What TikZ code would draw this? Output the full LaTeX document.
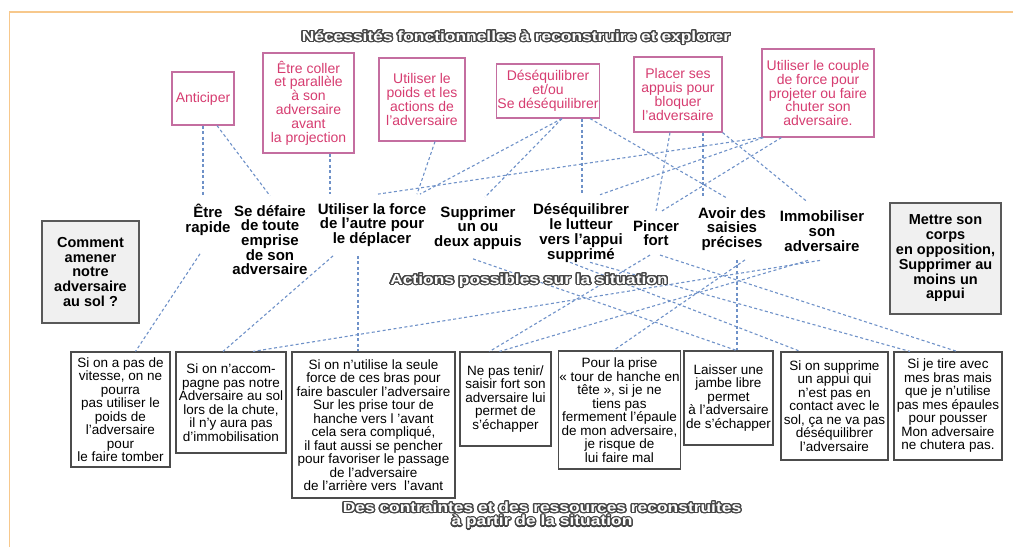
\documentclass[tikz,border=0pt]{standalone}
\usepackage{fontspec}
\setmainfont{Liberation Sans}
\usepackage{graphicx}
\usepackage[copies]{contour}
\contourlength{1.1pt}
\contournumber{24}
\definecolor{pinkline}{RGB}{196,110,160}
\definecolor{pinktext}{RGB}{214,60,112}
\definecolor{linkblue}{RGB}{110,145,200}
\definecolor{frameorange}{RGB}{247,200,140}
\definecolor{outlinecol}{RGB}{70,70,70}
\newcommand{\otxt}[1]{\scalebox{1.2}[1]{\contour{outlinecol}{#1}}}
\begin{document}
\begin{tikzpicture}[x=1pt,y=-1pt,
  pinkbox/.style={draw=pinkline, line width=1.1pt, text=pinktext, align=center,
    font=\fontsize{14}{13.8}\selectfont, inner sep=1pt},
  actlabel/.style={align=center, font=\bfseries\fontsize{15}{14.7}\selectfont,
    inner xsep=2pt, inner ysep=9pt},
  greybox/.style={draw=gray!70!black, fill=gray!12, line width=1.1pt, align=center,
    font=\bfseries\fontsize{14.5}{14.8}\selectfont, inner sep=1pt},
  cbox/.style={draw=gray!60!black, line width=1.1pt, fill=white, align=center,
    font=\fontsize{13.5}{13.5}\selectfont, inner sep=1pt},
  link/.style={draw=linkblue, dash pattern=on 3pt off 2.5pt, line width=1.1pt},
  outl/.style={align=center, inner sep=0pt, text=white,
    font=\bfseries\fontsize{14.5}{13.5}\selectfont},
  frameline/.style={draw=frameorange, line width=1.5pt}
]
\useasboundingbox (0,0) rectangle (1013,547);

% frame
\coordinate (fa) at (9.5,547);
\coordinate (fb) at (9.5,12);
\coordinate (fc) at (1013,12);
\draw[frameline] (fa) -- (fb) -- (fc);

% pink boxes
\node[pinkbox, minimum width=62, minimum height=53] (ant) at (203,98.5) {Anticiper};
\node[pinkbox, minimum width=91, minimum height=100] (etre) at (308.5,103) {Être coller\\et parallèle\\à son\\adversaire\\avant\\la projection};
\node[pinkbox, minimum width=86, minimum height=83] (poids) at (422,99.5) {Utiliser le\\poids et les\\actions de\\l'adversaire};
\node[pinkbox, minimum width=102, minimum height=54] (deseq) at (548,91) {Déséquilibrer\\et/ou\\Se déséquilibrer};
\node[pinkbox, minimum width=88, minimum height=75] (plac) at (678,94.5) {Placer ses\\appuis pour\\bloquer\\l'adversaire};
\node[pinkbox, minimum width=112, minimum height=88] (couple) at (818,93) {Utiliser le couple\\de force pour\\projeter ou faire\\chuter son\\adversaire.};

% action labels
\node[actlabel] (rap) at (208,220) {Être\\rapide};
\node[actlabel] (def) at (270,240) {Se défaire\\de toute\\emprise\\de son\\adversaire};
\node[actlabel] (force) at (372,225) {Utiliser la force\\de l'autre pour\\le déplacer};
\node[actlabel] (supp) at (478,228) {Supprimer\\un ou\\deux appuis};
\node[actlabel] (dlut) at (581,233) {Déséquilibrer\\le lutteur\\vers l'appui\\supprimé};
\node[actlabel] (pinc) at (656,233) {Pincer\\fort};
\node[actlabel] (avoir) at (732,229) {Avoir des\\saisies\\précises};
\node[actlabel] (immo) at (822,231) {Immobiliser\\son\\adversaire};

% grey boxes
\node[greybox, minimum width=97, minimum height=102] (q) at (90.5,272) {Comment\\amener\\notre\\adversaire\\au sol ?};
\node[greybox, minimum width=111, minimum height=111] (opp) at (945.5,258.5) {Mettre son\\corps\\en opposition,\\Supprimer au\\moins un\\appui};

% bottom boxes
\node[cbox, minimum width=99, minimum height=115] (b1) at (120.5,409.5) {Si on a pas de\\vitesse, on ne\\pourra\\pas utiliser le\\poids de\\l'adversaire\\pour\\le faire tomber};
\node[cbox, minimum width=110, minimum height=101] (b2) at (231,402.5) {Si on n'accom-\\pagne pas notre\\Adversaire au sol\\lors de la chute,\\il n'y aura pas\\d'immobilisation};
\node[cbox, minimum width=163, minimum height=146] (b3) at (373.5,425) {Si on n'utilise la seule\\force de ces bras pour\\faire basculer l'adversaire\\Sur les prise tour de\\hanche vers l 'avant\\cela sera compliqué,\\il faut aussi se pencher\\pour favoriser le passage\\de l'adversaire\\de l'arrière vers\ \ l'avant};
\node[cbox, minimum width=91, minimum height=94] (b4) at (505.5,399) {Ne pas tenir/\\saisir fort son\\adversaire lui\\permet de\\s'échapper};
\node[cbox, minimum width=121, minimum height=118] (b5) at (619.5,410) {Pour la prise\\« tour de hanche en\\tête », si je ne\\tiens pas\\fermement l'épaule\\de mon adversaire,\\je risque de\\lui faire mal};
\node[cbox, minimum width=89, minimum height=94] (b6) at (728.5,398) {Laisser une\\jambe libre\\permet\\à l'adversaire\\de s'échapper};
\node[cbox, minimum width=107, minimum height=108] (b7) at (834.5,406) {Si on supprime\\un appui qui\\n'est pas en\\contact avec le\\sol, ça ne va pas\\déséquilibrer\\l'adversaire};
\node[cbox, minimum width=108, minimum height=108] (b8) at (948,406) {Si je tire avec\\mes bras mais\\que je n'utilise\\pas mes épaules\\pour pousser\\Mon adversaire\\ne chutera pas.};

% top links
\draw[link] (ant.south) -- (ant.south |- rap.north);
\draw[link] ([xshift=14pt]ant.south) -- (def.north);
\draw[link] ([xshift=21.5pt]etre.south) -- ([xshift=21.5pt]etre.south |- force.north);
\draw[link] ([xshift=13pt]poids.south) -- ([xshift=45pt]force.north);
\draw[link] ([xshift=14pt]deseq.south) -- ([xshift=48pt]force.north);
\draw[link] ([xshift=14pt]deseq.south) -- ([xshift=7pt]supp.north);
\draw[link] ([xshift=34pt]deseq.south) -- ([xshift=34pt]deseq.south |- dlut.north);
\draw[link] ([xshift=42pt]deseq.south) -- ([xshift=-5pt]avoir.north);
\draw[link] ([xshift=-8pt]plac.south) -- (pinc.north);
\draw[link] ([xshift=25pt]plac.south) -- ([xshift=25pt]plac.south |- avoir.north);
\draw[link] (plac.south east) -- ([xshift=-15pt]immo.north);
\draw[link] (couple.south west) -- ([xshift=6pt]force.north);
\draw[link] ([xshift=2pt]couple.south west) -- ([xshift=19pt]dlut.north);
\draw[link] ([xshift=20pt]couple.south west) -- ([xshift=6pt]pinc.north);

% bottom links
\draw[link] ([xshift=-8pt,yshift=-9pt]rap.south) -- ([xshift=15pt]b1.north);
\draw[link] ([xshift=-39pt]force.south) -- ([xshift=-8pt]b2.north);
\draw[link] ([xshift=-14pt]force.south) -- ([xshift=-14pt]force.south |- b3.north);
\draw[link] ([xshift=-2pt]immo.south) -- ([xshift=22pt]b2.north);
\draw[link] ([xshift=-6pt]pinc.south) -- ([xshift=-16pt]b4.north);
\draw[link] ([xshift=-14pt]immo.south) -- ([xshift=-6pt]b4.north);
\draw[link] ([xshift=13pt]avoir.south) -- ([xshift=-6pt]b5.north);
\draw[link] ([xshift=5pt]avoir.south) -- ([xshift=5pt]avoir.south |- b6.north);
\draw[link] ([xshift=-5pt]supp.south) -- ([xshift=8pt]b6.north);
\draw[link] ([xshift=-11pt,yshift=9pt]dlut.south) -- ([xshift=-34pt]b7.north);
\draw[link] ([xshift=4pt]pinc.south) -- ([xshift=9pt]b8.north);
\draw[link] ([xshift=9pt,yshift=9pt]dlut.south) -- ([xshift=-38pt]b8.north);

% outlined titles
\node[outl] (t1) at (516,38) {\otxt{Nécessités fonctionnelles à reconstruire et explorer}};
\node[outl] (t2) at (529,281) {\otxt{Actions possibles sur la situation}};
\node[outl] (t3) at (542,516) {\otxt{Des contraintes et des ressources reconstruites}\\\otxt{à partir de la situation}};
\end{tikzpicture}
\end{document}
